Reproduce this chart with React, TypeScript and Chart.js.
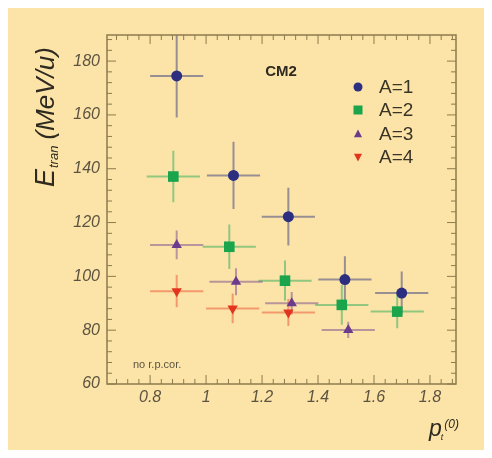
import { useEffect, useRef } from "react";
import { Chart, registerables } from "chart.js";

Chart.register(...registerables);

// Transverse energy vs. scaled transverse momentum, one series per fragment mass
const a1X = [0.895, 1.098, 1.294, 1.496, 1.699];
const a1Y = [174.5, 137.5, 122.2, 98.8, 93.8];
const a1Err = [15.5, 12.5, 10.7, 8.7, 8.0];

const a2X = [0.883, 1.083, 1.282, 1.485, 1.683];
const a2Y = [137.1, 111.0, 98.4, 89.4, 86.9];
const a2Err = [9.6, 8.3, 7.5, 7.4, 6.2];

const a3X = [0.895, 1.107, 1.306, 1.508];
const a3Y = [111.7, 98.0, 90.0, 80.1];
const a3Err = [5.3, 5.0, 4.2, 3.0];

const a4X = [0.895, 1.095, 1.294];
const a4Y = [94.5, 88.1, 86.6];
const a4Err = [6.0, 5.5, 5.0];

// half width of each p_t bin
const binHalfWidth = 0.095;

const xTickValues = [0.8, 1, 1.2, 1.4, 1.6, 1.8];
const yTickValues = [60, 80, 100, 120, 140, 160, 180];
const seriesLabels = ["A=1", "A=2", "A=3", "A=4"];

const xs = [a1X, a2X, a3X, a4X];
const ys = [a1Y, a2Y, a3Y, a4Y];
const yErrs = [a1Err, a2Err, a3Err, a4Err];

const markerColors = ["#2c2f80", "#1aa54c", "#6b3c8c", "#e2341f"];
const errColors = [
  "rgba(70,72,130,0.55)",
  "rgba(40,170,85,0.5)",
  "rgba(115,70,140,0.5)",
  "rgba(232,80,50,0.5)",
];
const pointStyles = ["circle", "rect", "triangle", "triangle"];
const pointRadii = [5.5, 7.5, 6, 6];
const pointRotations = [0, 0, 0, 180];

const BG = "#fce4a8";
const FRAME = "#8c7b4c";
const TEXT = "#5c5340";
const DARK = "#3a3427";
const FONT = "'Liberation Sans', Arial, Helvetica, sans-serif";

function drawMarker(ctx: CanvasRenderingContext2D, kind: number, x: number, y: number, r: number) {
  ctx.fillStyle = markerColors[kind];
  ctx.beginPath();
  if (kind === 0) {
    ctx.arc(x, y, r, 0, Math.PI * 2);
  } else if (kind === 1) {
    ctx.rect(x - r, y - r, 2 * r, 2 * r);
  } else if (kind === 2) {
    ctx.moveTo(x, y - r);
    ctx.lineTo(x + r * 0.9, y + r * 0.7);
    ctx.lineTo(x - r * 0.9, y + r * 0.7);
    ctx.closePath();
  } else {
    ctx.moveTo(x, y + r);
    ctx.lineTo(x + r * 0.9, y - r * 0.7);
    ctx.lineTo(x - r * 0.9, y - r * 0.7);
    ctx.closePath();
  }
  ctx.fill();
}

const decorations = {
  id: "decorations",
  beforeDraw(chart: any) {
    const ctx = chart.ctx;
    ctx.save();
    ctx.fillStyle = BG;
    ctx.fillRect(0, 0, chart.width, chart.height);
    ctx.restore();
  },
  beforeDatasetsDraw(chart: any) {
    const ctx = chart.ctx;
    const xs_ = chart.scales.x;
    const ys_ = chart.scales.y;
    const { left, right, top, bottom } = chart.chartArea;
    ctx.save();
    ctx.beginPath();
    ctx.rect(left, top, right - left, bottom - top);
    ctx.clip();
    ctx.lineWidth = 2;
    for (let s = 0; s < xs.length; s++) {
      ctx.strokeStyle = errColors[s];
      for (let i = 0; i < xs[s].length; i++) {
        const px = xs_.getPixelForValue(xs[s][i]);
        const py = ys_.getPixelForValue(ys[s][i]);
        const x0 = xs_.getPixelForValue(xs[s][i] - binHalfWidth);
        const x1 = xs_.getPixelForValue(xs[s][i] + binHalfWidth);
        const y0 = ys_.getPixelForValue(ys[s][i] + yErrs[s][i]);
        const y1 = ys_.getPixelForValue(ys[s][i] - yErrs[s][i]);
        ctx.beginPath();
        ctx.moveTo(x0, py);
        ctx.lineTo(x1, py);
        ctx.moveTo(px, y0);
        ctx.lineTo(px, y1);
        ctx.stroke();
      }
    }
    ctx.restore();
  },
  afterDraw(chart: any) {
    const ctx = chart.ctx;
    const sx = chart.scales.x;
    const sy = chart.scales.y;
    const { left, right, top, bottom } = chart.chartArea;
    ctx.save();

    // frame with inward ticks on all four sides
    ctx.strokeStyle = FRAME;
    ctx.lineWidth = 1.5;
    ctx.strokeRect(left, top, right - left, bottom - top);
    ctx.lineWidth = 1;
    ctx.beginPath();
    for (let k = Math.ceil(sx.min / 0.04); k * 0.04 <= sx.max; k++) {
      const px = sx.getPixelForValue(k * 0.04);
      const len = k % 5 === 0 ? 9 : 5;
      ctx.moveTo(px, bottom);
      ctx.lineTo(px, bottom - len);
      ctx.moveTo(px, top);
      ctx.lineTo(px, top + len);
    }
    for (let v = 60; v <= sy.max; v += 4) {
      const py = sy.getPixelForValue(v);
      const len = v % 20 === 0 ? 9 : 5;
      ctx.moveTo(left, py);
      ctx.lineTo(left + len, py);
      ctx.moveTo(right, py);
      ctx.lineTo(right - len, py);
    }
    ctx.stroke();

    // run label
    ctx.fillStyle = "#2e2a20";
    ctx.font = `bold 15px ${FONT}`;
    ctx.textAlign = "center";
    ctx.textBaseline = "middle";
    ctx.fillText("CM2", 273, 64);

    // legend
    const legendY = [79, 102, 126, 149];
    const legendR = [4.5, 4.5, 4.5, 4.5];
    ctx.font = `19px ${FONT}`;
    ctx.textAlign = "left";
    for (let s = 0; s < seriesLabels.length; s++) {
      drawMarker(ctx, s, 350, legendY[s], legendR[s]);
      ctx.fillStyle = DARK;
      ctx.fillText(seriesLabels[s], 371, legendY[s] + 1);
    }

    // note in lower left corner
    ctx.fillStyle = TEXT;
    ctx.font = `11px ${FONT}`;
    ctx.fillText("no r.p.cor.", 125, 357);

    // y axis title: E_tran (MeV/u)
    ctx.save();
    ctx.translate(46, 179);
    ctx.rotate(-Math.PI / 2);
    ctx.fillStyle = "#2e2a20";
    ctx.textAlign = "left";
    ctx.textBaseline = "alphabetic";
    ctx.font = `italic 27px ${FONT}`;
    ctx.fillText("E", 0, 0);
    let cx = ctx.measureText("E").width + 1;
    ctx.font = `italic 13px ${FONT}`;
    ctx.fillText("tran", cx, 4);
    cx += ctx.measureText("tran").width + 6;
    ctx.font = `italic 26px ${FONT}`;
    ctx.fillText("(MeV/u)", cx, 0);
    ctx.restore();

    // x axis title: p_t^(0), right aligned
    ctx.fillStyle = "#2e2a20";
    ctx.textBaseline = "alphabetic";
    ctx.font = `italic 12px ${FONT}`;
    const supW = ctx.measureText("(0)").width;
    ctx.font = `italic 9px ${FONT}`;
    const subW = ctx.measureText("t").width;
    ctx.font = `italic 23px ${FONT}`;
    const pW = ctx.measureText("p").width;
    const endX = 451;
    const startX = endX - supW - Math.max(subW, 0) - pW;
    ctx.textAlign = "left";
    ctx.fillText("p", startX, 428);
    ctx.font = `italic 9px ${FONT}`;
    ctx.fillText("t", startX + pW - 1, 432);
    ctx.font = `italic 12px ${FONT}`;
    ctx.fillText("(0)", endX - supW, 420);

    ctx.restore();
  },
};

export default function App() {
  const ref = useRef<HTMLCanvasElement | null>(null);

  useEffect(() => {
    if (!ref.current) return;
    const datasets = seriesLabels.map((label, s) => ({
      label,
      data: xs[s].map((x, i) => ({ x, y: ys[s][i] })),
      backgroundColor: markerColors[s],
      borderColor: markerColors[s],
      borderWidth: 0,
      pointStyle: pointStyles[s] as any,
      pointRadius: pointRadii[s],
      pointRotation: pointRotations[s],
      pointHoverRadius: pointRadii[s],
      showLine: false,
    }));

    const tickFont = { family: FONT, size: 16, style: "italic" as const };

    const chart = new Chart(ref.current, {
      type: "scatter",
      data: { datasets },
      options: {
        responsive: false,
        animation: false,
        events: [],
        layout: { padding: { left: 0, top: 27, right: 28, bottom: 0 } },
        plugins: {
          legend: { display: false },
          tooltip: { enabled: false },
          title: { display: false },
        },
        scales: {
          x: {
            type: "linear",
            min: 0.646,
            max: 1.893,
            grid: { display: false, drawTicks: false },
            border: { display: false },
            afterBuildTicks: (scale: any) => {
              scale.ticks = xTickValues.map((value) => ({ value }));
            },
            afterFit: (scale: any) => {
              scale.height = 66;
            },
            ticks: {
              font: tickFont,
              color: TEXT,
              padding: 4,
              maxRotation: 0,
              autoSkip: false,
              callback: (v: any) => String(Number(Number(v).toFixed(1))),
            },
          },
          y: {
            type: "linear",
            min: 60,
            max: 189.7,
            grid: { display: false, drawTicks: false },
            border: { display: false },
            afterBuildTicks: (scale: any) => {
              scale.ticks = yTickValues.map((value) => ({ value }));
            },
            afterFit: (scale: any) => {
              scale.width = 99;
            },
            ticks: {
              font: tickFont,
              color: TEXT,
              padding: 7,
              autoSkip: false,
              callback: (v: any) => String(v),
            },
          },
        },
      },
      plugins: [decorations],
    });
    return () => chart.destroy();
  }, []);

  return <canvas ref={ref} width={476} height={442} style={{ display: "block" }} />;
}
